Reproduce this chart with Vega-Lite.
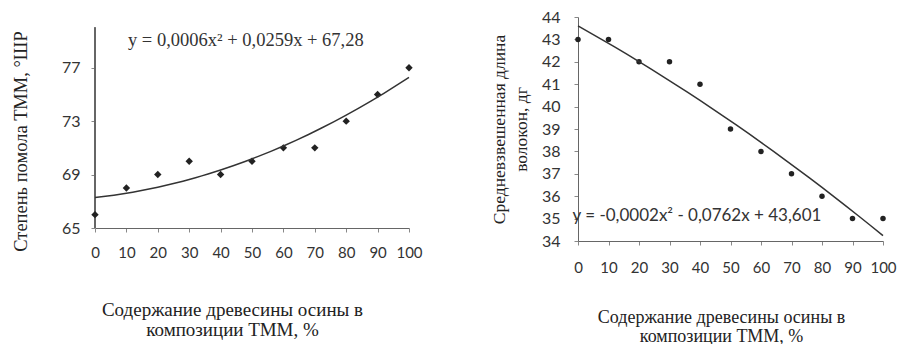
{
  "$schema": "https://vega.github.io/schema/vega-lite/v6.json",
  "padding": {"left": 10, "top": 9, "right": 5, "bottom": 2},
  "background": "white",
  "config": {
    "view": {"stroke": null},
    "axis": {"grid": false, "labelFont": "Lato", "labelFontSize": 16, "labelColor": "#333", "labelOverlap": false, "labelBound": false, "labelFlush": false, "titleFont": "Liberation Serif", "titleFontWeight": "normal", "titleColor": "#222", "domainColor": "#666", "tickColor": "#888", "tickSize": 4}
  },
  "bounds": "flush",
  "spacing": 169,
  "datasets": {
    "freeness": [
      {"x": 0, "y": 66}, {"x": 10, "y": 68}, {"x": 20, "y": 69}, {"x": 30, "y": 70}, {"x": 40, "y": 69}, {"x": 50, "y": 70},
      {"x": 60, "y": 71}, {"x": 70, "y": 71}, {"x": 80, "y": 73}, {"x": 90, "y": 75}, {"x": 100, "y": 77}
    ],
    "length": [
      {"x": 0, "y": 43}, {"x": 10, "y": 43}, {"x": 20, "y": 42}, {"x": 30, "y": 42}, {"x": 40, "y": 41}, {"x": 50, "y": 39},
      {"x": 60, "y": 38}, {"x": 70, "y": 37}, {"x": 80, "y": 36}, {"x": 90, "y": 35}, {"x": 100, "y": 35}
    ],
    "eq1": [{"x": 10.5, "y": 79.1, "label": "y = 0,0006x² + 0,0259x + 67,28"}],
    "eq2": [{"x": -1.8, "y": 35.1, "label": "y = -0,0002x² - 0,0762x + 43,601"}]
  },
  "hconcat": [
    {
      "width": 314,
      "height": 211,
      "layer": [
        {
          "data": {"name": "freeness"},
          "mark": {"type": "rule", "color": "#666", "strokeWidth": 1},
          "encoding": {"x": {"datum": 0}, "y": {"datum": 65}, "y2": {"datum": 80}}
        },
        {
          "data": {"name": "freeness"},
          "mark": {"type": "point", "filled": true, "shape": "diamond", "size": 55, "color": "#222", "opacity": 1},
          "encoding": {
            "x": {"field": "x", "type": "quantitative", "scale": {"domain": [0, 100], "nice": false},
              "axis": {"values": [0,10,20,30,40,50,60,70,80,90,100], "labelOverlap": false, "labelFlush": false, "tickCount": 11, "labelFontSize": 15, "labelPadding": 13, "title": ["Содержание древесины осины в", "композиции ТММ, %"], "titleFontSize": 19, "titleX": 137, "titleY": 72.5, "titleBaseline": "top", "titleLineHeight": 20}},
            "y": {"field": "y", "type": "quantitative", "scale": {"domain": [65, 80.8], "nice": false, "zero": false},
              "axis": {"values": [65,67,69,71,73,75,77,79], "labelOverlap": false, "domain": false, "labelPadding": 11, "title": "Степень помола ТММ, °ШР", "titleFontSize": 18.5, "titleX": -75, "titleY": 124, "titleBaseline": "middle", "titleAngle": -90}}
          }
        },
        {
          "data": {"name": "freeness"},
          "transform": [{"regression": "y", "on": "x", "method": "poly", "order": 2}],
          "mark": {"type": "line", "color": "#333", "strokeWidth": 1.5},
          "encoding": {"x": {"field": "x", "type": "quantitative"}, "y": {"field": "y", "type": "quantitative"}}
        },
        {
          "data": {"name": "eq1"},
          "mark": {"type": "text", "align": "left", "baseline": "middle", "font": "Liberation Serif", "fontSize": 18.5, "color": "#333"},
          "encoding": {"x": {"field": "x", "type": "quantitative"}, "y": {"field": "y", "type": "quantitative"}, "text": {"field": "label"}}
        }
      ]
    },
    {
      "width": 305,
      "height": 224,
      "layer": [
        {
          "data": {"name": "length"},
          "mark": {"type": "point", "filled": true, "size": 30, "color": "#222", "opacity": 1},
          "encoding": {
            "x": {"field": "x", "type": "quantitative", "scale": {"domain": [0, 100], "nice": false},
              "axis": {"values": [0,10,20,30,40,50,60,70,80,90,100], "labelOverlap": false, "labelFlush": false, "tickCount": 11, "labelFontSize": 15, "labelPadding": 15, "title": ["Содержание древесины осины в", "композиции ТММ, %"], "titleFontSize": 18, "titleX": 143, "titleY": 67, "titleBaseline": "top", "titleLineHeight": 19}},
            "y": {"field": "y", "type": "quantitative", "scale": {"domain": [34, 44], "nice": false, "zero": false},
              "axis": {"values": [34,35,36,37,38,39,40,41,42,43,44], "labelOverlap": false, "tickCount": 11, "labelPadding": 14, "title": ["Средневзвешенная длина", "волокон, дг"], "titleFontSize": 17.5, "titleX": -79, "titleY": 112, "titleBaseline": "middle", "titleAngle": -90, "titleLineHeight": 22}}
          }
        },
        {
          "data": {"name": "length"},
          "transform": [{"regression": "y", "on": "x", "method": "poly", "order": 2}],
          "mark": {"type": "line", "color": "#333", "strokeWidth": 1.5},
          "encoding": {"x": {"field": "x", "type": "quantitative"}, "y": {"field": "y", "type": "quantitative"}}
        },
        {
          "data": {"name": "eq2"},
          "mark": {"type": "text", "align": "left", "baseline": "middle", "font": "Lato", "fontSize": 17, "color": "#333"},
          "encoding": {"x": {"field": "x", "type": "quantitative"}, "y": {"field": "y", "type": "quantitative"}, "text": {"field": "label"}}
        }
      ]
    }
  ]
}
